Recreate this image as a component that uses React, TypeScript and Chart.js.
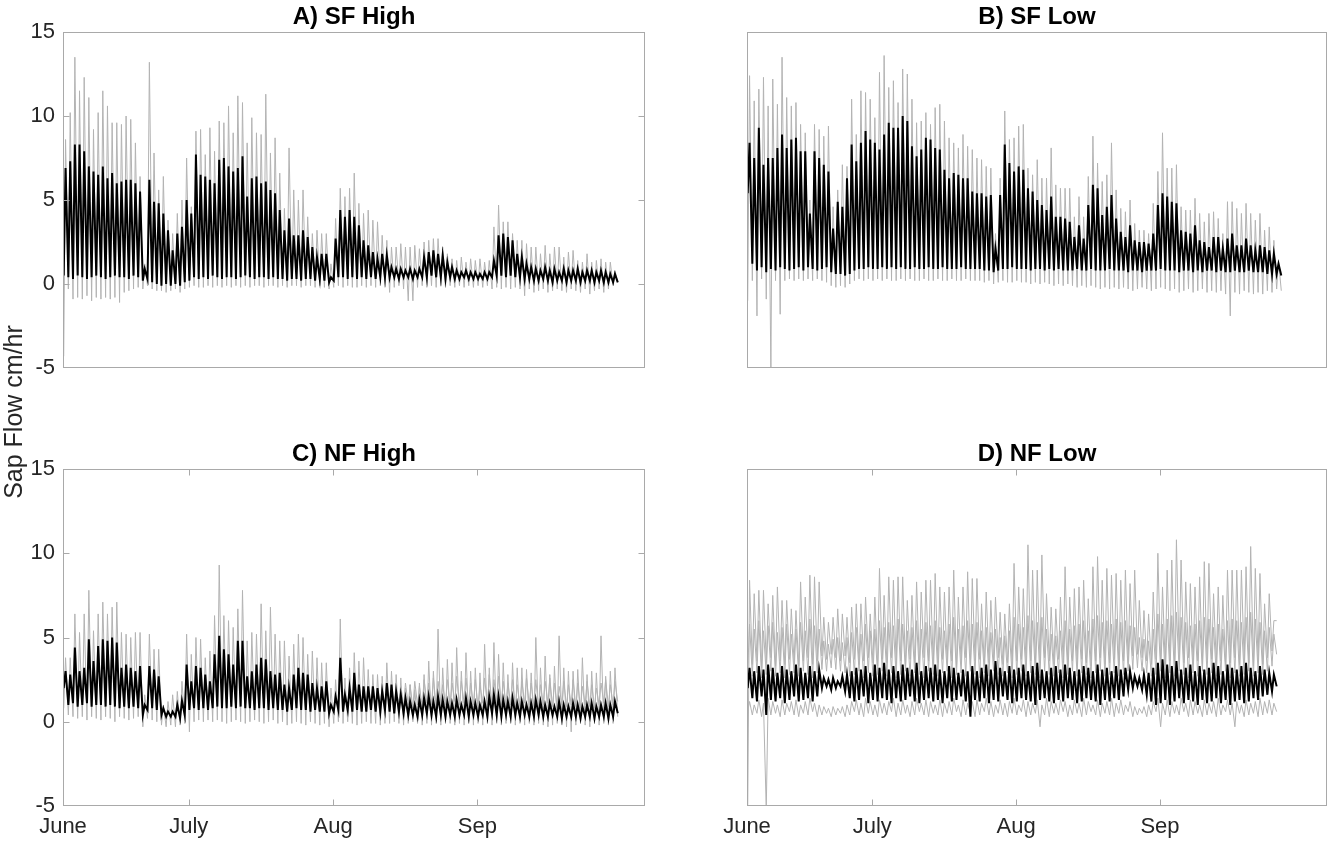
import React, { useEffect, useRef } from "react";
import { Chart, registerables } from "chart.js";

Chart.register(...registerables);

const FONT = "'Liberation Sans', Arial, Helvetica, sans-serif";
Chart.defaults.font.family = FONT;

// ---- axes ----
const monthTickDays = [0, 27, 58, 89];
const monthTickLabels = ["June", "July", "Aug", "Sep"];
const xMaxDay = 125;
const yMinVal = -5;
const yMaxVal = 15;
const yStepVal = 5;
const yInnerTicks = [0, 5, 10];

// ---- A) SF High (daily peaks / troughs) ----
const sfHighMeanPeak = [
  6.9, 7.3, 8.3, 8.3, 7.9, 7.0, 6.7, 6.5, 7.0, 6.3,
  6.6, 6.0, 6.1, 6.2, 6.2, 6.0, 5.5, 0.9, 6.2, 4.9,
  4.8, 4.2, 3.2, 2.0, 3.0, 3.4, 5.0, 4.2, 7.7, 6.5,
  6.4, 6.2, 6.0, 7.4, 7.5, 7.0, 6.7, 6.9, 7.6, 5.2,
  6.3, 6.4, 6.0, 6.1, 5.6, 5.4, 4.4, 3.2, 3.9, 2.9,
  2.9, 3.2, 2.8, 2.2, 1.6, 1.8, 1.8, 0.4, 2.7, 4.4,
  4.0, 4.4, 4.0, 3.5, 2.6, 2.3, 1.9, 1.5, 1.8, 1.7,
  1.0, 0.9, 0.9, 0.8, 0.9, 0.8, 0.9, 1.6, 1.9, 2.0,
  1.8, 1.7, 1.3, 1.0, 0.8, 0.7, 0.8, 0.7, 0.7, 0.6,
  0.7, 0.7, 1.4, 2.9, 3.0, 2.8, 2.6, 1.8, 1.6, 1.2,
  1.0, 0.9, 0.8, 1.0, 0.8, 0.9, 0.7, 0.9, 0.8, 0.8,
  0.9, 0.7, 0.8, 0.8, 0.7, 0.8, 0.7, 0.6, 0.6,
];
const sfHighMeanBase = [
  0.5, 0.4, 0.3, 0.5, 0.4, 0.3, 0.4, 0.5, 0.4, 0.3,
  0.4, 0.5, 0.4, 0.4, 0.3, 0.5, 0.4, 0.2, 0.3, 0.1,
  0.0, -0.1, 0.0, -0.1, 0.0, -0.1, 0.1, 0.2, 0.4, 0.3,
  0.4, 0.3, 0.5, 0.4, 0.3, 0.4, 0.4, 0.3, 0.4, 0.5,
  0.4, 0.3, 0.4, 0.4, 0.3, 0.4, 0.3, 0.3, 0.2, 0.3,
  0.3, 0.2, 0.3, 0.3, 0.2, 0.3, 0.2, 0.1, 0.2, 0.4,
  0.4, 0.3, 0.4, 0.3, 0.4, 0.3, 0.4, 0.3, 0.4, 0.4,
  0.4, 0.4, 0.3, 0.4, 0.4, 0.3, 0.4, 0.4, 0.4, 0.5,
  0.4, 0.4, 0.3, 0.4, 0.3, 0.3, 0.4, 0.3, 0.3, 0.3,
  0.3, 0.3, 0.4, 0.5, 0.5, 0.4, 0.5, 0.4, 0.4, 0.3,
  0.3, 0.2, 0.2, 0.3, 0.2, 0.1, 0.2, 0.2, 0.1, 0.2,
  0.2, 0.1, 0.2, 0.2, 0.1, 0.2, 0.1, 0.1, 0.1, 0.1,
];
const sfHighSensorPeak = [
  8.6, 10.2, 13.5, 11.5, 12.3, 11.1, 9.2, 10.2, 11.5, 10.6,
  9.6, 9.6, 9.5, 10.0, 9.8, 8.4, 6.4, 1.2, 13.2, 7.8,
  5.6, 6.4, 3.8, 3.0, 4.2, 5.0, 7.5, 4.6, 9.1, 9.2,
  7.7, 9.3, 7.9, 9.7, 9.6, 10.6, 9.0, 11.2, 10.8, 8.4,
  9.9, 9.0, 8.9, 11.3, 7.8, 8.7, 6.6, 4.5, 8.1, 5.6,
  5.0, 5.6, 4.0, 3.0, 3.2, 3.0, 3.0, 1.2, 3.9, 5.7,
  5.2, 5.7, 6.6, 4.8, 4.2, 4.4, 3.8, 3.7, 2.9, 2.6,
  2.2, 2.2, 2.4, 2.2, 2.2, 2.3, 2.1, 2.5, 2.6, 2.7,
  2.7, 2.2, 1.8, 1.5, 1.4, 1.6, 1.3, 1.5, 1.4, 1.5,
  1.3, 1.4, 3.4, 4.7, 3.7, 3.7, 3.0, 2.6, 2.6, 2.4,
  2.2, 2.2, 1.8, 2.3, 1.8, 2.2, 2.2, 1.6, 1.9, 2.0,
  1.4, 1.3, 1.8, 1.3, 1.4, 1.5, 1.3, 1.3, 0.8,
];
const sfHighSensorBase = [
  -4.3, -0.3, -0.9, -0.8, -0.9, -0.7, -1.0, -0.8, -0.9, -0.8,
  -0.9, -0.8, -1.1, -0.5, -0.4, -0.3, -0.2, -0.3, -0.1, -0.3,
  -0.4, -0.4, -0.5, -0.4, -0.3, -0.5, -0.3, -0.2, -0.1, -0.2,
  -0.2, -0.1, -0.2, -0.1, -0.2, -0.1, -0.2, -0.1, -0.2, -0.1,
  -0.2, -0.1, -0.1, -0.2, -0.1, -0.1, -0.2, -0.1, -0.2, -0.1,
  -0.1, -0.2, -0.1, -0.1, -0.2, -0.1, -0.2, -0.3, -0.2, -0.1,
  -0.2, -0.1, -0.2, -0.2, -0.1, -0.2, -0.1, -0.2, -0.1, -0.2,
  -0.5, -0.2, -0.1, -0.3, -1.0, -1.0, -0.2, -0.1, -0.2, -0.1,
  -0.2, -0.1, -0.2, -0.1, -0.2, -0.1, -0.2, -0.1, -0.2, -0.1,
  -0.2, -0.1, -0.3, -0.2, -0.3, -0.2, -0.3, -0.2, -0.3, -0.7,
  -0.3, -0.5, -0.4, -0.3, -0.5, -0.4, -0.3, -0.4, -0.5, -0.3,
  -0.4, -0.5, -0.3, -0.6, -0.4, -0.3, -0.5, -0.3, -0.1, 0.1,
];

// ---- B) SF Low ----
const sfLowMeanPeak = [
  8.4, 7.5, 9.3, 7.1, 7.5, 7.5, 8.1, 8.9, 8.1, 8.6,
  8.7, 7.9, 7.9, 4.2, 7.9, 7.5, 7.1, 6.7, 3.3, 4.9,
  4.6, 6.3, 8.3, 7.3, 8.4, 9.1, 8.6, 8.4, 8.0, 8.9,
  9.6, 9.3, 9.3, 10.0, 9.7, 8.2, 7.6, 8.0, 8.7, 8.6,
  8.1, 8.0, 6.8, 6.3, 6.6, 6.5, 6.3, 6.3, 5.5, 5.4,
  5.4, 5.2, 5.3, 2.1, 5.3, 8.3, 7.2, 6.7, 7.0, 6.8,
  5.7, 5.5, 5.0, 4.7, 4.4, 5.2, 4.0, 4.0, 3.9, 3.7,
  2.8, 3.5, 2.7, 4.7, 5.9, 5.7, 4.1, 4.6, 5.3, 3.9,
  3.1, 2.8, 3.5, 2.6, 2.5, 2.5, 2.4, 3.0, 4.7, 5.4,
  5.2, 4.9, 4.8, 3.2, 3.1, 3.0, 3.5, 2.6, 2.5, 2.2,
  2.8, 2.8, 2.1, 2.7, 3.0, 2.3, 2.3, 2.7, 2.3, 2.0,
  2.3, 2.2, 2.0, 1.8, 1.2,
];
const sfLowMeanBase = [
  5.4, 1.2, 0.8, 1.0, 0.7, 0.9, 0.8, 1.0, 0.9, 0.8,
  0.9, 1.0, 0.8, 1.0, 0.9, 0.8, 0.9, 1.0, 0.7, 0.6,
  0.6, 0.5, 0.6, 0.8, 0.9, 0.9, 1.0, 0.9, 0.9, 1.0,
  0.9, 1.0, 0.9, 1.0, 0.9, 0.9, 1.0, 0.9, 0.9, 1.0,
  0.9, 0.9, 1.0, 0.9, 0.9, 0.9, 1.0, 0.9, 0.9, 0.9,
  0.9, 0.8, 0.8, 0.7, 0.8, 0.9, 0.9, 1.0, 0.9, 0.9,
  0.9, 0.8, 0.9, 0.9, 0.8, 0.9, 0.8, 0.9, 0.8, 0.8,
  0.8, 0.9, 0.8, 0.8, 0.9, 0.8, 0.8, 0.8, 0.9, 0.8,
  0.8, 0.8, 0.7, 0.8, 0.8, 0.7, 0.8, 0.8, 0.8, 0.9,
  0.8, 0.8, 0.8, 0.7, 0.8, 0.8, 0.7, 0.8, 0.7, 0.8,
  0.8, 0.7, 0.8, 0.7, 0.7, 0.8, 0.7, 0.7, 0.8, 0.7,
  0.7, 0.7, 0.6, 0.6, 0.6, 0.5,
];
const sfLowSensorPeak = [
  12.4, 10.9, 11.6, 12.3, 10.6, 12.2, 10.7, 13.5, 11.1, 10.6,
  10.8, 9.5, 9.0, 5.0, 9.5, 9.2, 8.8, 9.4, 4.6, 5.6,
  7.1, 7.0, 11.0, 8.9, 11.5, 11.4, 11.0, 9.9, 12.6, 13.6,
  11.7, 12.1, 10.8, 12.8, 12.5, 11.0, 9.6, 9.7, 10.2, 9.5,
  10.5, 10.7, 9.7, 8.7, 8.4, 8.1, 8.9, 8.2, 8.0, 7.5,
  7.4, 7.0, 6.9, 3.0, 6.3, 10.3, 8.6, 8.7, 9.4, 9.5,
  6.9, 6.5, 7.4, 6.3, 6.3, 8.1, 5.9, 5.7, 5.7, 5.7,
  4.0, 5.2, 4.0, 6.4, 8.8, 7.2, 6.1, 6.5, 8.4, 5.6,
  4.5, 4.3, 5.0, 3.6, 3.2, 3.2, 3.0, 4.8, 6.7, 9.0,
  6.9, 6.9, 7.1, 4.6, 4.4, 4.4, 5.1, 4.2, 3.7, 4.2,
  4.3, 3.9, 3.0, 4.9, 4.9, 4.5, 4.2, 4.8, 4.2, 3.8,
  4.2, 3.2, 3.4, 2.6, 1.4,
];
const sfLowSensorBase = [
  -1.0, 0.2, -1.9, 0.3, -0.9, -5.2, 0.2, -1.8, 0.2, 0.3,
  0.2, 0.3, 0.2, 0.3, 0.2, 0.3, 0.2, 0.1, -0.1, -0.2,
  -0.1, -0.2, 0.0, 0.2, 0.3, 0.2, 0.3, 0.2, 0.3, 0.2,
  0.3, 0.2, 0.2, 0.3, 0.2, 0.3, 0.2, 0.2, 0.3, 0.2,
  0.2, 0.3, 0.2, 0.2, 0.3, 0.2, 0.2, 0.3, 0.2, 0.2,
  0.2, 0.1, 0.2, 0.0, 0.1, 0.2, 0.1, 0.1, 0.2, 0.1,
  0.1, 0.0, 0.1, 0.0, 0.1, 0.0, -0.1, 0.0, -0.1, 0.0,
  -0.1, -0.2, -0.1, -0.2, -0.1, -0.2, -0.3, -0.2, -0.3, -0.2,
  -0.3, -0.2, -0.3, -0.4, -0.3, -0.2, -0.3, -0.4, -0.3, -0.2,
  -0.3, -0.4, -0.3, -0.5, -0.4, -0.3, -0.5, -0.4, -0.3, -0.5,
  -0.4, -0.5, -0.4, -0.6, -1.9, -0.5, -0.6, -0.4, -0.5, -0.6,
  -0.5, -0.6, -0.4, -0.5, -0.3, -0.4,
];

// ---- C) NF High ----
const nfHighMeanPeak = [
  3.0, 2.8, 4.4, 3.0, 3.2, 4.9, 3.6, 4.5, 4.9, 4.8,
  5.0, 4.7, 3.2, 3.4, 3.2, 3.0, 3.3, 1.0, 3.3, 3.1,
  2.7, 0.8, 0.6, 0.6, 1.0, 1.25, 3.4, 2.4, 3.3, 3.2,
  2.8, 2.4, 4.0, 5.1, 4.3, 4.0, 3.4, 4.8, 4.8, 2.7,
  3.0, 3.4, 3.8, 3.7, 3.0, 2.8, 2.9, 2.2, 2.0, 2.8,
  3.2, 2.9, 2.8, 2.3, 2.0, 2.1, 2.4, 1.0, 1.5, 3.8,
  1.6, 2.0, 2.9, 2.2, 2.1, 2.1, 2.1, 2.0, 1.8, 2.3,
  2.2, 1.8, 1.6, 1.4, 1.2, 1.0, 1.3, 1.4, 1.5, 1.2,
  1.5, 1.3, 1.2, 1.1, 1.3, 1.0, 1.4, 1.2, 1.1, 1.0,
  1.2, 1.5, 1.6, 1.5, 1.3, 1.2, 1.4, 1.1, 1.2, 1.0,
  1.1, 1.3, 1.2, 1.0, 1.1, 0.9, 1.2, 1.0, 0.9, 1.1,
  1.0, 0.9, 1.0, 1.1, 0.9, 1.0, 1.1, 1.0, 1.2,
];
const nfHighMeanBase = [
  2.0, 1.0, 1.1, 0.9, 1.0, 1.1, 0.9, 1.0, 1.0, 0.9,
  1.0, 0.9, 0.8, 0.9, 0.8, 0.9, 0.8, 0.4, 0.7, 0.8,
  0.7, 0.4, 0.3, 0.3, 0.3, 0.2, 0.4, 0.7, 0.8, 0.7,
  0.8, 0.7, 0.8, 0.9, 0.8, 0.8, 0.9, 0.8, 0.9, 0.8,
  0.8, 0.7, 0.8, 0.8, 0.7, 0.8, 0.7, 0.7, 0.6, 0.7,
  0.8, 0.7, 0.7, 0.6, 0.7, 0.6, 0.6, 0.5, 0.6, 0.7,
  0.6, 0.7, 0.6, 0.7, 0.6, 0.6, 0.7, 0.6, 0.6, 0.7,
  0.6, 0.5, 0.6, 0.5, 0.4, 0.4, 0.3, 0.4, 0.5, 0.4,
  0.3, 0.4, 0.3, 0.4, 0.3, 0.4, 0.4, 0.3, 0.4, 0.3,
  0.4, 0.3, 0.5, 0.4, 0.3, 0.4, 0.3, 0.4, 0.3, 0.4,
  0.3, 0.3, 0.4, 0.3, 0.3, 0.4, 0.3, 0.2, 0.3, 0.3,
  0.3, 0.2, 0.3, 0.3, 0.2, 0.3, 0.3, 0.2, 0.3, 0.5,
];
const nfHighSensorPeak = [
  3.8, 3.8, 6.4, 5.3, 6.4, 7.8, 5.4, 6.4, 7.1, 6.4,
  6.8, 7.1, 5.3, 5.2, 5.0, 5.3, 5.3, 1.6, 5.2, 4.3,
  4.3, 1.0, 1.2, 1.6, 1.8, 2.4, 5.2, 4.0, 5.0, 4.9,
  3.8, 4.2, 6.3, 9.3, 6.3, 6.0, 5.6, 6.7, 7.8, 4.8,
  5.3, 5.2, 7.0, 5.4, 6.8, 5.2, 4.8, 4.8, 3.9, 4.6,
  5.2, 5.0, 4.0, 4.2, 3.8, 3.5, 3.5, 2.0, 2.5, 6.1,
  2.6, 3.2, 4.1, 3.6, 3.8, 3.1, 2.8, 2.8, 2.7, 3.5,
  3.0, 2.8, 2.6, 2.0, 2.2, 1.9, 2.3, 2.8, 3.6, 3.0,
  5.5, 3.2, 3.7, 3.5, 4.4, 3.0, 4.1, 3.0, 3.2, 2.9,
  4.6, 3.2, 4.7, 4.0, 3.5, 2.8, 3.5, 3.2, 3.2, 3.1,
  2.9, 5.0, 3.2, 3.9, 2.8, 3.3, 5.1, 3.2, 3.0, 3.0,
  3.1, 3.8, 2.8, 3.0, 2.9, 5.1, 2.7, 3.0, 3.2,
];
const nfHighSensorBase = [
  0.8, 0.4, 0.3, 0.2, 0.3, 0.1, 0.3, 0.2, 0.1, 0.3,
  0.2, 0.0, 0.3, 0.2, 0.1, 0.2, 0.3, -0.3, 0.2, 0.1,
  0.0, -0.2, -0.3, -0.2, -0.3, -0.2, -0.1, -0.6, 0.0, 0.1,
  0.0, 0.1, 0.0, 0.1, 0.0, -0.1, 0.0, 0.1, 0.0, -0.1,
  0.0, 0.1, 0.0, -0.1, 0.0, 0.1, -0.1, 0.0, -0.2, -0.1,
  0.0, -0.1, -0.2, 0.0, -0.1, -0.2, -0.1, -0.3, -0.1, 0.0,
  -0.1, 0.0, -0.1, -0.2, -0.1, 0.0, -0.1, -0.1, -0.2, -0.1,
  -0.1, 0.0, -0.1, -0.2, -0.1, 0.0, -0.1, -0.2, -0.1, -0.2,
  -0.1, -0.2, -0.1, -0.1, -0.2, -0.1, -0.2, -0.1, -0.2, -0.1,
  -0.2, -0.1, -0.2, -0.1, -0.2, -0.1, -0.1, -0.2, -0.1, -0.2,
  -0.1, -0.2, -0.1, -0.2, -0.3, -0.2, -0.1, -0.2, -0.3, -0.6,
  -0.2, -0.1, -0.2, -0.3, -0.1, -0.2, -0.1, -0.2, -0.1, 0.3,
];
const nfHighSensor2StartDay = 60;
const nfHighSensor2Peak = [
  1.8, 2.1, 1.9, 2.2, 2.0, 1.8, 2.1, 1.9, 2.0, 2.2,
  2.0, 1.9, 2.1, 2.3, 2.2, 2.4, 2.1, 2.5, 2.3, 2.6,
  2.4, 2.2, 2.5, 2.3, 2.7, 2.4, 2.6, 2.3, 2.5, 2.2,
  2.6, 2.8, 2.5, 2.7, 2.4, 2.3, 2.5, 2.2, 2.4, 2.6,
  2.3, 2.5, 2.2, 2.4, 2.6, 2.3, 2.1, 2.4, 2.2, 2.5,
  2.3, 2.1, 2.4, 2.2, 2.0, 2.3, 2.5, 2.2, 2.4,
];
const nfHighSensor2Base = [
  0.9, 1.0, 0.8, 1.1, 0.9, 1.0, 0.8, 0.9, 1.0, 0.8,
  1.0, 0.9, 1.1, 0.9, 1.0, 0.8, 1.0, 0.9, 1.1, 1.0,
  0.9, 1.1, 1.0, 0.9, 1.2, 1.0, 1.1, 0.9, 1.0, 0.8,
  1.1, 1.0, 0.9, 1.1, 1.0, 0.9, 1.0, 0.8, 0.9, 1.1,
  1.0, 0.9, 0.8, 1.0, 1.1, 0.9, 0.8, 1.0, 0.9, 1.0,
  0.9, 0.8, 1.0, 0.9, 0.8, 1.0, 1.1, 0.9, 1.0, 1.2,
];

// ---- D) NF Low ----
const nfLowMeanPeak = [
  3.2, 3.0, 3.3, 3.1, 3.4, 3.2, 2.9, 3.3, 3.1, 3.0,
  3.4, 3.2, 2.9, 3.3, 3.0, 3.1, 2.6, 2.5, 2.6, 2.4,
  2.7, 2.8, 3.0, 3.2, 3.1, 3.3, 2.9, 3.4, 3.2, 3.5,
  3.1, 3.3, 3.0, 3.4, 3.2, 3.1, 3.5, 3.0, 3.3, 3.2,
  3.4, 3.1, 3.0, 3.3, 3.2, 2.9, 3.1, 3.0, 3.3, 3.0,
  3.2, 3.4, 3.1, 3.6, 3.2, 3.0, 3.3, 3.1, 3.2, 3.4,
  3.0, 3.3, 3.5, 3.1, 3.0, 3.2, 3.3, 3.1, 3.4, 3.2,
  3.0, 3.1, 3.3, 3.2, 3.0, 3.4, 3.1, 3.2, 3.0, 3.3,
  3.1, 3.2, 3.0, 2.7, 2.6, 2.8, 2.9, 3.2, 3.5, 3.7,
  3.4, 3.3, 3.6, 3.1, 3.2, 3.4, 3.0, 3.3, 3.1, 3.2,
  3.5, 3.3, 3.0, 3.4, 3.2, 3.1, 3.3, 3.5, 3.2, 3.0,
  3.3, 3.1, 2.9, 2.8,
];
const nfLowMeanBase = [
  2.0, 1.4, 1.2, 1.5, 0.4, 1.3, 1.2, 1.4, 1.1, 1.3,
  1.5, 1.2, 1.3, 1.4, 1.2, 1.5, 2.0, 2.1, 1.9, 2.0,
  2.1, 1.8, 1.4, 1.2, 1.3, 1.5, 1.1, 1.3, 1.2, 1.4,
  1.3, 1.1, 1.4, 1.2, 1.3, 1.5, 1.2, 1.1, 1.3, 1.4,
  1.2, 1.3, 1.1, 1.4, 1.2, 1.3, 1.5, 1.2, 0.3, 1.3,
  1.2, 1.4, 1.1, 1.3, 1.2, 1.5, 1.3, 1.1, 1.2, 1.4,
  1.3, 1.2, 1.0, 1.3, 1.4, 1.2, 1.1, 1.3, 1.2, 1.4,
  1.3, 1.1, 1.2, 1.4, 1.3, 1.2, 1.0, 1.3, 1.2, 1.4,
  1.3, 1.5, 1.9, 2.0, 2.1, 1.9, 1.6, 1.2, 1.0, 1.1,
  1.3, 1.0, 1.2, 1.4, 1.1, 1.3, 1.2, 1.0, 1.3, 1.1,
  1.2, 1.4, 1.1, 1.3, 1.0, 1.2, 1.3, 1.1, 1.2, 1.4,
  1.3, 1.5, 1.6, 1.8, 2.1,
];
const nfLowSensorHighPeak = [
  8.4, 7.6, 7.8, 7.8, 7.0, 7.5, 8.0, 7.2, 7.2, 6.7,
  6.6, 8.3, 7.4, 8.7, 8.6, 8.3, 6.2, 5.9, 6.2, 6.7,
  6.4, 6.2, 6.8, 7.0, 7.0, 7.4, 6.4, 7.4, 9.1, 7.5,
  8.6, 8.4, 8.6, 8.6, 7.2, 7.5, 8.3, 7.7, 8.4, 8.4,
  8.8, 8.0, 7.7, 8.0, 9.0, 7.4, 8.0, 8.9, 8.5, 8.5,
  7.0, 7.7, 7.2, 7.4, 6.5, 6.4, 7.0, 9.4, 8.0, 7.9,
  10.5, 9.0, 9.0, 9.9, 7.6, 6.8, 6.7, 7.4, 9.2, 7.4,
  7.9, 8.0, 8.4, 7.3, 9.2, 9.8, 8.4, 9.1, 8.7, 8.8,
  8.4, 9.0, 8.2, 9.0, 7.2, 6.6, 6.4, 7.7, 10.0, 8.0,
  9.0, 9.6, 10.8, 9.6, 8.3, 8.2, 8.0, 8.6, 9.5, 9.4,
  7.6, 8.0, 7.5, 9.0, 9.0, 9.0, 9.0, 9.2, 10.4, 9.1,
  8.8, 7.0, 7.6, 6.0,
];
const nfLowSensorHighBase = [
  -5.2, 3.4, 3.6, 3.2, 3.5, 3.8, 3.3, 3.6, 3.4, 3.7,
  3.5, 3.3, 3.6, 3.8, 3.4, 3.6, 3.9, 3.7, 4.0, 3.8,
  3.6, 3.9, 3.5, 3.7, 3.4, 3.6, 3.8, 3.5, 3.3, 3.7,
  3.5, 3.8, 3.4, 3.6, 3.3, 3.7, 3.5, 3.4, 3.8, 3.6,
  3.3, 3.5, 3.7, 3.4, 3.6, 3.2, 3.5, 3.8, 3.4, 3.6,
  3.7, 3.3, 3.5, 3.6, 3.8, 3.4, 3.5, 3.3, 3.6, 3.7,
  3.4, 3.6, 3.3, 3.5, 3.8, 3.6, 3.4, 3.7, 3.5, 3.3,
  3.6, 3.4, 3.7, 3.5, 3.3, 3.6, 3.8, 3.4, 3.5, 3.7,
  3.3, 3.6, 3.5, 3.9, 4.0, 3.8, 3.6, 3.4, 3.7, 3.5,
  3.3, 3.6, 3.4, 3.7, 3.5, 3.8, 3.4, 3.6, 3.3, 3.5,
  3.7, 3.4, 3.6, 3.3, 3.5, 3.8, 3.4, 3.6, 3.5, 3.3,
  3.6, 3.4, 3.8, 4.2, 6.0,
];
const nfLowSensorMidPeak = [
  5.8, 5.5, 6.0, 5.4, 5.7, 5.9, 5.3, 5.6, 5.8, 5.2,
  5.5, 5.9, 5.4, 6.1, 5.7, 5.5, 4.8, 4.6, 4.9, 5.0,
  4.7, 5.0, 5.3, 5.6, 5.2, 5.8, 5.4, 5.5, 6.0, 5.6,
  5.9, 5.7, 6.1, 5.8, 5.4, 5.6, 6.0, 5.5, 5.9, 5.7,
  6.0, 5.6, 5.4, 5.8, 6.2, 5.5, 5.7, 6.0, 5.8, 5.9,
  5.4, 5.6, 5.3, 5.5, 5.0, 5.1, 5.4, 6.2, 5.8, 5.6,
  6.3, 6.0, 5.9, 6.2, 5.5, 5.2, 5.1, 5.4, 6.0, 5.5,
  5.7, 5.8, 6.0, 5.4, 6.1, 6.3, 5.9, 6.0, 5.8, 6.1,
  5.9, 6.0, 5.7, 5.6, 5.0, 4.9, 4.8, 5.5, 6.4, 5.8,
  6.1, 6.3, 6.5, 6.2, 5.9, 5.7, 5.8, 6.0, 6.2, 6.1,
  5.6, 5.8, 5.5, 6.0, 6.1, 6.0, 5.9, 6.2, 6.5, 6.1,
  5.9, 5.4, 5.6, 5.2,
];
const nfLowSensorMidBase = [
  3.0, 2.7, 2.9, 2.6, 2.8, 3.0, 2.7, 2.9, 2.6, 2.8,
  2.9, 2.7, 3.0, 2.8, 2.6, 2.9, 3.1, 3.0, 3.2, 3.1,
  3.0, 2.9, 2.7, 2.8, 3.0, 2.6, 2.9, 2.7, 2.8, 3.0,
  2.7, 2.9, 2.6, 2.8, 3.0, 2.7, 2.9, 2.8, 2.6, 3.0,
  2.8, 2.7, 2.9, 3.0, 2.6, 2.8, 2.9, 2.7, 3.0, 2.8,
  2.6, 2.9, 2.7, 3.0, 2.8, 2.7, 2.9, 2.6, 2.8, 3.0,
  2.7, 2.9, 2.8, 2.6, 3.0, 2.8, 2.7, 2.9, 2.6, 2.8,
  3.0, 2.7, 2.9, 2.8, 2.6, 2.9, 3.0, 2.7, 2.8, 2.9,
  2.7, 2.8, 3.0, 3.1, 3.2, 3.0, 2.9, 2.7, 2.8, 3.0,
  2.6, 2.9, 2.7, 3.0, 2.8, 2.6, 2.9, 2.7, 3.0, 2.8,
  2.9, 2.7, 2.8, 3.0, 2.6, 2.9, 2.7, 2.8, 3.0, 2.7,
  2.9, 2.8, 3.0, 3.3, 4.0,
];
const nfLowSensorLowPeak = [
  1.2, 1.0, 1.3, 1.1, 1.4, 1.2, 1.0, 1.3, 1.1, 1.2,
  1.3, 1.0, 1.2, 1.4, 1.1, 1.0, 0.9, 0.8, 0.9, 0.8,
  0.9, 1.0, 1.2, 1.3, 1.1, 1.4, 1.2, 1.0, 1.3, 1.1,
  1.2, 1.4, 1.1, 1.3, 1.0, 1.2, 1.4, 1.1, 1.3, 1.2,
  1.0, 1.3, 1.1, 1.2, 1.4, 1.0, 1.3, 1.1, 1.2, 1.3,
  1.1, 1.4, 1.2, 1.0, 1.3, 1.1, 1.2, 1.4, 1.0, 1.3,
  1.2, 1.1, 1.3, 1.0, 1.4, 1.2, 1.1, 1.3, 1.2, 1.0,
  1.3, 1.1, 1.4, 1.2, 1.0, 1.3, 1.1, 1.2, 1.4, 1.1,
  1.3, 1.0, 1.2, 0.9, 0.8, 0.9, 1.0, 1.2, 1.4, 1.1,
  1.3, 1.2, 1.0, 1.4, 1.1, 1.3, 1.2, 1.0, 1.3, 1.1,
  1.2, 1.4, 1.0, 1.3, 1.1, 1.2, 1.0, 1.3, 1.1, 1.2,
  1.4, 1.2, 1.3, 1.1,
];
const nfLowSensorLowBase = [
  0.6, 0.4, 0.5, 0.3, -5.2, 0.4, 0.5, 0.3, 0.4, 0.6,
  0.4, 0.3, 0.5, 0.4, 0.6, 0.3, 0.4, 0.5, 0.3, 0.4,
  0.5, 0.3, 0.4, 0.6, 0.4, 0.3, 0.5, 0.4, 0.3, 0.5,
  0.4, 0.6, 0.3, 0.4, 0.5, 0.3, 0.4, 0.6, 0.4, 0.3,
  0.5, 0.4, 0.3, 0.5, 0.4, 0.6, 0.3, 0.4, 0.5, 0.3,
  0.4, 0.6, 0.4, 0.3, 0.5, 0.4, 0.3, 0.5, 0.4, 0.6,
  0.3, 0.4, 0.5, -0.3, 0.4, 0.3, 0.5, 0.4, 0.6, 0.3,
  0.4, 0.5, 0.3, 0.4, 0.6, 0.4, 0.3, 0.5, 0.4, 0.3,
  0.5, 0.4, 0.6, 0.3, 0.4, 0.5, 0.3, 0.4, 0.6, -0.3,
  0.4, 0.3, 0.5, 0.4, 0.6, 0.3, 0.4, 0.5, 0.3, 0.4,
  0.5, 0.3, 0.4, 0.6, 0.4, -0.3, 0.5, 0.3, 0.4, 0.5,
  0.3, 0.4, 0.5, 0.4, 0.6,
];

// ---- styling ----
const MEAN_COLOR = "#000000";
const SENSOR_COLOR = "#b3b3b3";
const FRAME_COLOR = "#a9a9a9";
const TEXT_COLOR = "#262626";

type Pt = { x: number; y: number };

// one trough and one peak per day, straight from the arrays
function dailyTrace(base: number[], peak: number[], startDay = 0): Pt[] {
  const pts: Pt[] = [];
  for (let i = 0; i < peak.length; i++) {
    pts.push({ x: startDay + i + 0.15, y: base[i] });
    pts.push({ x: startDay + i + 0.55, y: peak[i] });
  }
  if (base.length > peak.length) {
    pts.push({ x: startDay + peak.length + 0.15, y: base[peak.length] });
  }
  return pts;
}

const framePlugin = {
  id: "matlabFrame",
  afterDraw(chart: any, _args: any, opts: any) {
    const { ctx, chartArea: a, scales } = chart;
    ctx.save();
    ctx.strokeStyle = FRAME_COLOR;
    ctx.lineWidth = 1;
    const L = Math.round(a.left) + 0.5;
    const R = Math.round(a.right) - 0.5;
    const T = Math.round(a.top) + 0.5;
    const B = Math.round(a.bottom) - 0.5;
    ctx.strokeRect(L, T, R - L, B - T);
    const tl = 6;
    ctx.beginPath();
    if (opts.yTicks) {
      for (const v of yInnerTicks) {
        const y = Math.round(scales.y.getPixelForValue(v)) + 0.5;
        ctx.moveTo(L, y);
        ctx.lineTo(L + tl, y);
        ctx.moveTo(R, y);
        ctx.lineTo(R - tl, y);
      }
    }
    if (opts.xTicks) {
      for (const v of monthTickDays.slice(1)) {
        const x = Math.round(scales.x.getPixelForValue(v)) + 0.5;
        ctx.moveTo(x, T);
        ctx.lineTo(x, T + tl);
        ctx.moveTo(x, B);
        ctx.lineTo(x, B - tl);
      }
    }
    ctx.stroke();
    ctx.fillStyle = "#000000";
    ctx.font = `bold 24px ${FONT}`;
    ctx.textAlign = "center";
    ctx.textBaseline = "alphabetic";
    ctx.fillText(opts.title, (a.left + a.right) / 2, a.top - 8.5);
    ctx.restore();
  },
};

type SeriesSpec = { data: Pt[]; color: string; width: number };
type PanelSpec = {
  title: string;
  left: number;
  top: number;
  width: number;
  height: number;
  padding: { left: number; top: number; right: number; bottom: number };
  yLabels: boolean;
  xLabels: boolean;
  yTicks: boolean;
  xTicks: boolean;
  series: SeriesSpec[];
};

const panels: PanelSpec[] = [
  {
    title: "A) SF High",
    left: 0, top: 0, width: 665, height: 400,
    padding: { left: 0, top: 32, right: 20, bottom: 32 },
    yLabels: true, xLabels: false, yTicks: true, xTicks: false,
    series: [
      { data: dailyTrace(sfHighMeanBase, sfHighMeanPeak), color: MEAN_COLOR, width: 2 },
      { data: dailyTrace(sfHighSensorBase, sfHighSensorPeak), color: SENSOR_COLOR, width: 1 },
    ],
  },
  {
    title: "B) SF Low",
    left: 680, top: 0, width: 650, height: 400,
    padding: { left: 67, top: 32, right: 3, bottom: 32 },
    yLabels: false, xLabels: false, yTicks: false, xTicks: false,
    series: [
      { data: dailyTrace(sfLowMeanBase, sfLowMeanPeak), color: MEAN_COLOR, width: 2 },
      { data: dailyTrace(sfLowSensorBase, sfLowSensorPeak), color: SENSOR_COLOR, width: 1 },
    ],
  },
  {
    title: "C) NF High",
    left: 0, top: 420, width: 665, height: 422,
    padding: { left: 0, top: 49, right: 20, bottom: 0 },
    yLabels: true, xLabels: true, yTicks: true, xTicks: true,
    series: [
      { data: dailyTrace(nfHighMeanBase, nfHighMeanPeak), color: MEAN_COLOR, width: 2 },
      { data: dailyTrace(nfHighSensorBase, nfHighSensorPeak), color: SENSOR_COLOR, width: 1 },
      { data: dailyTrace(nfHighSensor2Base, nfHighSensor2Peak, nfHighSensor2StartDay), color: SENSOR_COLOR, width: 1 },
    ],
  },
  {
    title: "D) NF Low",
    left: 680, top: 420, width: 650, height: 422,
    padding: { left: 67, top: 49, right: 3, bottom: 0 },
    yLabels: false, xLabels: true, yTicks: false, xTicks: true,
    series: [
      { data: dailyTrace(nfLowMeanBase, nfLowMeanPeak), color: MEAN_COLOR, width: 2 },
      { data: dailyTrace(nfLowSensorHighBase, nfLowSensorHighPeak), color: SENSOR_COLOR, width: 1 },
      { data: dailyTrace(nfLowSensorMidBase, nfLowSensorMidPeak), color: SENSOR_COLOR, width: 1 },
      { data: dailyTrace(nfLowSensorLowBase, nfLowSensorLowPeak), color: SENSOR_COLOR, width: 1 },
    ],
  },
];

function Panel({ spec }: { spec: PanelSpec }) {
  const ref = useRef<HTMLCanvasElement>(null);
  useEffect(() => {
    if (!ref.current) return;
    const chart = new Chart(ref.current, {
      type: "line",
      data: {
        datasets: spec.series.map((s) => ({
          data: s.data,
          borderColor: s.color,
          backgroundColor: s.color,
          borderWidth: s.width,
          pointRadius: 0,
          tension: 0,
          fill: false,
        })),
      },
      options: {
        animation: false,
        responsive: false,
        parsing: false,
        events: [],
        layout: { padding: spec.padding },
        plugins: {
          legend: { display: false },
          tooltip: { enabled: false },
          title: { display: false },
          matlabFrame: { title: spec.title, yTicks: spec.yTicks, xTicks: spec.xTicks },
        } as any,
        scales: {
          x: {
            type: "linear",
            min: 0,
            max: xMaxDay,
            display: spec.xLabels,
            grid: { display: false, drawTicks: false },
            border: { display: false },
            afterBuildTicks: (s: any) => {
              s.ticks = monthTickDays.map((v) => ({ value: v }));
            },
            afterFit: (s: any) => {
              s.height = spec.xLabels ? 36 : 0;
            },
            ticks: {
              autoSkip: false,
              maxRotation: 0,
              padding: 8,
              color: TEXT_COLOR,
              font: { size: 22, family: FONT },
              callback: (_v: any, i: number) => monthTickLabels[i],
            },
          },
          y: {
            type: "linear",
            min: yMinVal,
            max: yMaxVal,
            display: spec.yLabels,
            grid: { display: false, drawTicks: false },
            border: { display: false },
            afterFit: (s: any) => {
              s.width = spec.yLabels ? 63 : 0;
            },
            ticks: {
              stepSize: yStepVal,
              padding: 8,
              color: TEXT_COLOR,
              font: { size: 22, family: FONT },
            },
          },
        },
      } as any,
      plugins: [framePlugin],
    });
    return () => chart.destroy();
  }, [spec]);
  return (
    <canvas
      ref={ref}
      width={spec.width}
      height={spec.height}
      style={{ position: "absolute", left: spec.left, top: spec.top, width: spec.width, height: spec.height }}
    />
  );
}

export default function App() {
  return (
    <div style={{ position: "absolute", left: 0, top: 0, width: 1330, height: 842, background: "#ffffff", overflow: "hidden" }}>
      {panels.map((p) => (
        <Panel key={p.title} spec={p} />
      ))}
      <div
        style={{
          position: "absolute",
          left: 13 - 150,
          top: 412 - 14,
          width: 300,
          height: 28,
          lineHeight: "28px",
          textAlign: "center",
          fontFamily: FONT,
          fontSize: 25,
          color: TEXT_COLOR,
          whiteSpace: "nowrap",
          transform: "rotate(-90deg)",
        }}
      >
        Sap Flow cm/hr
      </div>
    </div>
  );
}
